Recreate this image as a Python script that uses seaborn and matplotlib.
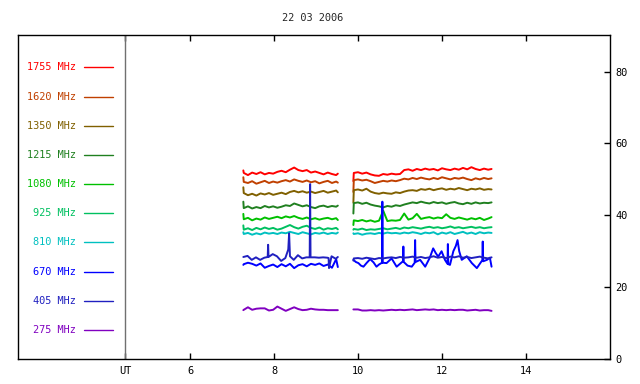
import pandas as pd
import matplotlib
matplotlib.use('Agg')
import matplotlib.pyplot as plt
import seaborn as sns

freqs = ['1755 MHz', '1620 MHz', '1350 MHz', '1215 MHz', '1080 MHz',
         '925 MHz', '810 MHz', '670 MHz', '405 MHz', '275 MHz']
colors = ['#ff0000', '#c04000', '#806000', '#208020', '#00c000',
          '#00c060', '#00c0c0', '#0000ff', '#2020c0', '#8000c0']

# UT hours of the two observing stretches
t_a = [7.27, 7.28, 7.38, 7.48, 7.58, 7.68, 7.78, 7.88, 7.98, 8.08, 8.18, 8.28, 8.38,
       8.48, 8.58, 8.68, 8.78, 8.88, 8.98, 9.08, 9.18, 9.28, 9.38, 9.48, 9.52]
t_b = [9.89, 9.90, 10.00, 10.10, 10.20, 10.30, 10.40, 10.50, 10.60, 10.70, 10.80,
       10.90, 11.00, 11.10, 11.20, 11.30, 11.40, 11.50, 11.60, 11.70, 11.80, 11.90,
       12.00, 12.10, 12.20, 12.30, 12.40, 12.50, 12.60, 12.70, 12.80, 12.90, 13.00,
       13.10, 13.18]

f1755_a = [52.5, 51.8, 51.2, 51.9, 51.5, 52.0, 51.4, 51.8, 51.6, 52.1, 52.4, 52.0, 52.7,
           53.3, 52.6, 52.3, 52.6, 51.9, 52.2, 51.8, 51.4, 51.9, 51.5, 51.2, 51.6]
f1755_b = [49.5, 51.8, 52.0, 51.6, 51.9, 51.4, 51.1, 51.0, 51.5, 51.3, 51.6, 51.4, 51.5,
           52.6, 52.8, 52.4, 52.9, 52.6, 53.0, 52.7, 52.9, 52.5, 53.1, 52.8, 52.6, 53.0,
           52.7, 53.2, 52.8, 53.4, 52.9, 52.6, 53.0, 52.7, 52.9]

f1620_a = [50.6, 49.3, 49.0, 49.5, 48.8, 49.2, 49.6, 49.0, 49.4, 49.1, 49.5, 49.8, 49.4,
           50.0, 49.6, 49.3, 49.7, 49.2, 49.5, 48.9, 49.3, 49.6, 49.0, 49.4, 49.1]
f1620_b = [46.5, 49.8, 50.0, 49.7, 49.9, 49.5, 49.0, 49.3, 49.6, 49.4, 49.7, 49.5, 49.8,
           50.2, 50.0, 50.4, 50.1, 50.5, 50.2, 50.0, 50.4, 50.1, 50.6, 50.3, 50.0, 50.4,
           50.2, 50.5, 50.1, 49.8, 50.3, 50.0, 50.4, 50.1, 50.3]

f1350_a = [47.8, 46.2, 45.6, 46.0, 45.5, 46.1, 45.8, 46.2, 45.7, 46.0, 46.3, 45.9, 46.5,
           46.8, 46.4, 46.7, 46.3, 46.6, 46.2, 46.5, 46.8, 46.3, 46.6, 46.9, 46.4]
f1350_b = [43.5, 47.0, 47.2, 46.9, 47.4, 46.6, 46.2, 46.0, 46.3, 46.1, 46.0, 46.4, 46.2,
           46.6, 46.9, 47.0, 46.8, 47.3, 47.1, 47.4, 47.0, 47.3, 47.5, 47.1, 47.4, 47.2,
           47.6, 47.3, 47.0, 47.4, 47.2, 47.5, 47.1, 47.3, 47.2]

f1215_a = [43.8, 42.0, 42.5, 41.9, 42.3, 42.0, 42.6, 42.2, 42.5, 42.1, 42.4, 42.8, 42.6,
           43.3, 42.9, 42.5, 42.8, 42.3, 42.0, 42.5, 42.7, 42.3, 42.6, 42.4, 42.7]
f1215_b = [40.5, 43.4, 43.6, 43.2, 43.5, 43.0, 42.7, 42.5, 42.2, 42.6, 42.4, 42.8, 42.6,
           43.0, 43.3, 43.6, 43.4, 43.8, 43.5, 43.3, 43.7, 43.4, 43.6, 43.2, 43.5, 43.7,
           43.3, 43.1, 43.5, 43.2, 43.6, 43.3, 43.5, 43.4, 43.6]

f1080_a = [40.4, 38.9, 39.3, 38.6, 39.1, 38.8, 39.4, 39.0, 39.3, 39.6, 39.2, 39.7, 39.4,
           39.8, 39.3, 39.0, 39.4, 38.9, 39.2, 38.8, 39.1, 39.3, 38.9, 39.2, 38.7]
f1080_b = [37.3, 38.6, 38.4, 38.7, 38.3, 38.6, 38.2, 38.5, 41.3, 38.4, 38.6, 38.5, 38.7,
           40.5, 38.8, 39.2, 40.4, 39.0, 39.3, 39.5, 39.1, 39.4, 39.2, 40.3, 39.3, 39.0,
           39.4, 39.1, 38.8, 39.2, 38.9, 39.3, 38.7, 39.1, 39.5]

f925_a = [37.2, 36.0, 36.4, 35.9, 36.5, 36.1, 36.6, 36.2, 36.5, 36.0, 36.3, 36.8, 37.3,
          36.7, 36.3, 36.8, 37.1, 36.5, 36.2, 36.6, 36.0, 36.4, 36.2, 36.5, 36.1]
f925_b = [36.0, 36.2, 36.0, 36.3, 35.9, 36.1, 36.0, 36.2, 36.4, 36.1, 36.3, 36.5, 36.2,
          36.6, 36.4, 36.7, 36.5, 36.3, 36.6, 36.8, 36.5, 36.7, 36.4, 36.6, 36.9, 36.5,
          36.7, 36.4, 36.6, 36.8, 36.5, 36.7, 36.4, 36.6, 36.7]

f810_a = [35.3, 34.8, 35.1, 34.6, 35.0, 34.7, 35.2, 34.9, 35.1, 34.8, 35.2, 35.0, 35.4,
          35.1, 34.8, 35.3, 35.0, 34.7, 35.1, 34.9, 35.2, 34.8, 35.1, 34.9, 35.2]
f810_b = [35.0, 34.8, 35.0, 34.6, 34.9, 35.0, 34.8, 35.1, 34.9, 35.2, 35.0, 35.1, 34.9,
          35.2, 35.0, 35.3, 35.1, 34.8, 35.2, 35.0, 35.3, 34.7, 35.2, 34.9, 35.3, 34.8,
          35.1, 35.4, 34.9, 35.2, 34.8, 35.3, 35.0, 35.2, 35.1]

f670_a = [26.2, 26.4, 26.8, 26.5, 26.0, 26.6, 25.4, 25.9, 26.3, 25.6, 26.4, 25.8, 26.5,
          25.3, 26.1, 26.4, 25.8, 26.5, 26.2, 26.6, 25.9, 26.3, 25.4, 27.8, 25.6]
t670_b = [9.89, 9.95, 10.01, 10.07, 10.13, 10.21, 10.29, 10.37, 10.44, 10.50, 10.57,
          10.58, 10.59, 10.68, 10.80, 10.92, 11.00, 11.07, 11.08, 11.09, 11.18, 11.28,
          11.35, 11.36, 11.37, 11.48, 11.60, 11.71, 11.79, 11.85, 11.91, 11.99, 12.07,
          12.13, 12.14, 12.15, 12.19, 12.27, 12.33, 12.37, 12.41, 12.47, 12.59, 12.71,
          12.83, 12.90, 12.96, 12.97, 12.98, 13.07, 13.14, 13.18]
f670_b = [27.6, 27.0, 26.7, 26.0, 25.7, 26.8, 27.8, 26.9, 25.7, 26.3, 26.8, 43.8, 26.8,
          26.7, 28.0, 25.7, 26.5, 27.2, 31.3, 27.0, 26.0, 25.7, 26.8, 33.1, 27.0, 27.6,
          25.7, 28.2, 30.8, 29.5, 28.5, 30.0, 27.6, 26.5, 32.0, 26.4, 26.2, 30.0, 31.5,
          33.1, 30.0, 27.6, 28.6, 26.7, 25.3, 26.5, 27.5, 32.7, 27.2, 27.6, 28.2, 25.7]

t405_a = [7.27, 7.37, 7.47, 7.57, 7.67, 7.77, 7.85, 7.86, 7.87, 7.97, 8.07, 8.17, 8.27,
          8.34, 8.36, 8.38, 8.47, 8.57, 8.67, 8.77, 8.85, 8.86, 8.87, 8.97, 9.07, 9.17,
          9.27, 9.30, 9.31, 9.37, 9.47, 9.52]
f405_a = [28.4, 28.7, 27.6, 28.3, 27.6, 28.2, 28.4, 31.8, 28.4, 29.2, 28.6, 27.3, 28.1,
          30.5, 35.0, 28.6, 27.6, 28.9, 28.0, 28.3, 28.3, 48.7, 28.3, 28.3, 28.2, 28.3,
          28.2, 28.1, 25.3, 28.6, 27.9, 28.4]
f405_b = [27.4, 28.0, 28.1, 27.9, 28.2, 28.0, 27.8, 28.1, 28.0, 28.2, 28.3, 28.1, 28.4,
          28.2, 28.3, 28.5, 28.2, 28.4, 28.1, 28.3, 28.6, 28.2, 28.4, 28.1, 28.5, 28.3,
          28.6, 28.2, 28.4, 28.1, 28.3, 28.5, 28.2, 28.0, 28.3]

f275_a = [13.6, 13.7, 14.4, 13.7, 14.0, 14.1, 14.1, 13.5, 13.7, 14.6, 14.0, 13.4, 13.9,
          14.4, 13.9, 13.6, 13.7, 14.0, 13.8, 13.7, 13.7, 13.6, 13.6, 13.6, 13.6]
f275_b = [13.8, 13.8, 13.8, 13.5, 13.5, 13.6, 13.5, 13.6, 13.5, 13.6, 13.7, 13.6, 13.7,
          13.6, 13.7, 13.8, 13.6, 13.7, 13.8, 13.7, 13.8, 13.6, 13.7, 13.6, 13.7, 13.6,
          13.7, 13.7, 13.5, 13.6, 13.7, 13.5, 13.6, 13.6, 13.4]

series = {
    '1755 MHz': [(t_a, f1755_a), (t_b, f1755_b)],
    '1620 MHz': [(t_a, f1620_a), (t_b, f1620_b)],
    '1350 MHz': [(t_a, f1350_a), (t_b, f1350_b)],
    '1215 MHz': [(t_a, f1215_a), (t_b, f1215_b)],
    '1080 MHz': [(t_a, f1080_a), (t_b, f1080_b)],
    '925 MHz': [(t_a, f925_a), (t_b, f925_b)],
    '810 MHz': [(t_a, f810_a), (t_b, f810_b)],
    '670 MHz': [(t_a, f670_a), (t670_b, f670_b)],
    '405 MHz': [(t405_a, f405_a), (t_b, f405_b)],
    '275 MHz': [(t_a, f275_a), (t_b, f275_b)],
}

rows = []
for name, parts in series.items():
    for k, (tt, vv) in enumerate(parts):
        for t, v in zip(tt, vv):
            rows.append((name, k, t, v))
df = pd.DataFrame(rows, columns=['freq', 'seg', 'UT', 'flux'])

# legend rows, as fraction of axes height
legend_y = [0.900, 0.808, 0.718, 0.629, 0.540, 0.450, 0.360, 0.268, 0.178, 0.089]

sns.set_style('white')
plt.rcParams['font.family'] = ['DejaVu Sans Mono']
fs = 7.4

fig = plt.figure(figsize=(6.4, 3.84), dpi=100)
ax = fig.add_axes([18 / 640, 25 / 384, 592 / 640, 324 / 384])

sns.lineplot(data=df, x='UT', y='flux', hue='freq', units='seg', estimator=None,
             sort=False, hue_order=freqs, palette=dict(zip(freqs, colors)),
             legend=False, lw=1.4, ax=ax)

ax.axvline(4.45, color='#707070', lw=1)
for i, name in enumerate(freqs):
    ax.text(0.098, legend_y[i], name, transform=ax.transAxes, ha='right',
            va='center', color=colors[i], fontsize=fs)
    ax.plot([0.1115, 0.1605], [legend_y[i], legend_y[i]], transform=ax.transAxes,
            color=colors[i], lw=1)

ax.set_xlim(1.905, 16.0)
ax.set_ylim(0, 90.2)
ax.set_xticks([4.45, 6, 8, 10, 12, 14], ['UT', '6', '8', '10', '12', '14'])
ax.yaxis.tick_right()
ax.set_yticks([0, 20, 40, 60, 80])
ax.tick_params(axis='x', direction='in', top=True, bottom=True, length=4, width=1,
               pad=5, labelsize=fs, colors='black')
ax.tick_params(axis='y', direction='in', left=False, right=True, length=4, width=1,
               pad=4, labelsize=fs, colors='black')
ax.set_xlabel('')
ax.set_ylabel('')
for s in ax.spines.values():
    s.set_color('black')
    s.set_linewidth(1)

fig.text(313 / 640, 1 - 18 / 384, '22 03 2006', ha='center', va='center', fontsize=fs)

fig.savefig('out.png', dpi=100)
